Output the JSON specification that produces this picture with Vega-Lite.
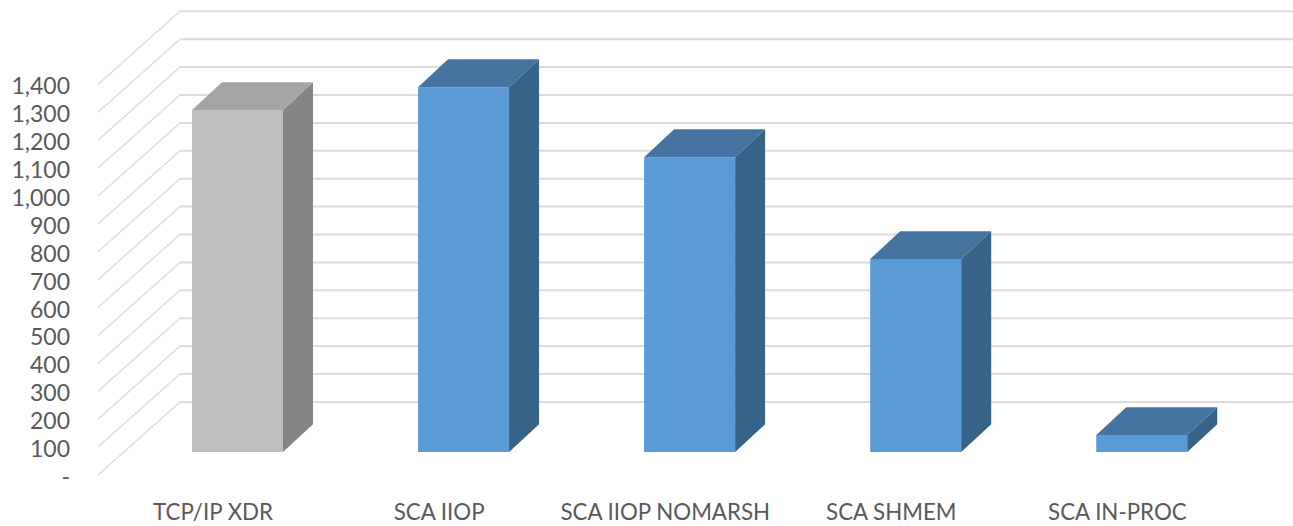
{
"$schema":"https://vega.github.io/schema/vega-lite/v6.json",
"width":1195,"height":526,"autosize":"none",
"padding":{"left":98,"top":0,"right":0,"bottom":0},
"background":"white",
"datasets":{
"bars":[
{"category":"TCP/IP XDR","index":0,"value":1226,"series":"TCP/IP"},
{"category":"SCA IIOP","index":1,"value":1308,"series":"SCA"},
{"category":"SCA IIOP NOMARSH","index":2,"value":1057,"series":"SCA"},
{"category":"SCA SHMEM","index":3,"value":692,"series":"SCA"},
{"category":"SCA IN-PROC","index":4,"value":61,"series":"SCA"}
],
"ticks":[{"tick":0},{"tick":100},{"tick":200},{"tick":300},{"tick":400},{"tick":500},{"tick":600},{"tick":700},{"tick":800},{"tick":900},{"tick":1000},{"tick":1100},{"tick":1200},{"tick":1300},{"tick":1400}]
},
"config":{"view":{"stroke":null}},
"layer":[
{"data":{"name":"ticks"},
 "transform":[{"calculate":"-0.617","as":"x0"},{"calculate":"-0.2544","as":"x1"},{"calculate":"datum.tick+262","as":"yb"}],
 "mark":{"type":"rule","stroke":"#dcdcdc","strokeWidth":1.3},
 "encoding":{
  "x":{"field":"x0","type":"quantitative","scale":{"domain":[-0.617,4.669],"nice":false,"zero":false},"axis":null},
  "x2":{"field":"x1"},
  "y":{"field":"tick","type":"quantitative","scale":{"domain":[-182.8,1702.5],"nice":false,"zero":false},
   "axis":null},
  "y2":{"field":"yb"}
 }},
{"data":{"name":"ticks"},
 "transform":[{"calculate":"-0.2544","as":"x1"},{"calculate":"4.669","as":"x2e"},{"calculate":"datum.tick+262","as":"yb"}],
 "mark":{"type":"rule","stroke":"#dcdcdc","strokeWidth":2},
 "encoding":{
  "x":{"field":"x1","type":"quantitative","axis":null},
  "x2":{"field":"x2e"},
  "y":{"field":"yb","type":"quantitative","axis":null}
 }},
{"data":{"name":"ticks"},
 "transform":[{"calculate":"-0.617","as":"x0"},{"calculate":"datum.tick===0?'-':format(datum.tick,',')","as":"tickLabel"}],
 "mark":{"type":"text","font":"Lato","fontSize":23,"fill":"#595959","align":"right","baseline":"middle","dx":-28,"dy":3},
 "encoding":{
  "x":{"field":"x0","type":"quantitative","axis":null},
  "y":{"field":"tick","type":"quantitative","axis":null},
  "text":{"field":"tickLabel"}
 }},
{"data":{"name":"bars"},
 "transform":[
  {"calculate":"datum.series+' front'","as":"face"},
  {"calculate":"datum.index-0.2013","as":"xl"},
  {"calculate":"datum.index+0.2013","as":"xr"},
  {"calculate":"datum.value+82","as":"yt"},
  {"calculate":"82","as":"yb"}],
 "mark":{"type":"rect"},
 "encoding":{
  "x":{"field":"xl","type":"quantitative","axis":null},"x2":{"field":"xr"},
  "y":{"field":"yt","type":"quantitative","axis":null},"y2":{"field":"yb"},
  "color":{"field":"face","type":"nominal","legend":null,
   "scale":{"domain":["TCP/IP front","TCP/IP side","TCP/IP top","SCA front","SCA side","SCA top"],"range":["#bfbfbf","#858585","#a5a5a5","#5b9bd5","#376387","#44749f"]}}
 }},
{"data":{"name":"bars"},
 "transform":[
  {"calculate":"datum.series+' side'","as":"face"},
  {"calculate":"[datum.index+0.2013,datum.index+0.3340]","as":"xs"},
  {"calculate":"[datum.value+82,datum.value+182]","as":"ys"},
  {"calculate":"[82,182]","as":"y2s"},
  {"flatten":["xs","ys","y2s"]}],
 "mark":{"type":"area","interpolate":"linear"},
 "encoding":{
  "x":{"field":"xs","type":"quantitative","axis":null},
  "y":{"field":"ys","type":"quantitative","stack":null,"axis":null},"y2":{"field":"y2s"},
  "detail":{"field":"category"},
  "color":{"field":"face","type":"nominal","legend":null}
 }},
{"data":{"name":"bars"},
 "transform":[
  {"calculate":"datum.series+' top'","as":"face"},
  {"calculate":"[datum.index-0.2013,datum.index-0.0686,datum.index+0.2013,datum.index+0.3340]","as":"xs"},
  {"calculate":"[datum.value+82,datum.value+182,datum.value+182,datum.value+182]","as":"ys"},
  {"calculate":"[datum.value+82,datum.value+82,datum.value+82,datum.value+182]","as":"y2s"},
  {"flatten":["xs","ys","y2s"]}],
 "mark":{"type":"area","interpolate":"linear"},
 "encoding":{
  "x":{"field":"xs","type":"quantitative","axis":null},
  "y":{"field":"ys","type":"quantitative","stack":null,"axis":null},"y2":{"field":"y2s"},
  "detail":{"field":"category"},
  "color":{"field":"face","type":"nominal","legend":null}
 }},
{"data":{"name":"bars"},
 "transform":[{"calculate":"-129","as":"labelY"},{"calculate":"datum.index-0.108","as":"labelX"}],
 "mark":{"type":"text","font":"Lato","fontSize":22.3,"fill":"#595959","align":"center","baseline":"middle","dy":2},
 "encoding":{
  "x":{"field":"labelX","type":"quantitative","axis":null},
  "y":{"field":"labelY","type":"quantitative","axis":null},
  "text":{"field":"category"}
 }}
]
}
